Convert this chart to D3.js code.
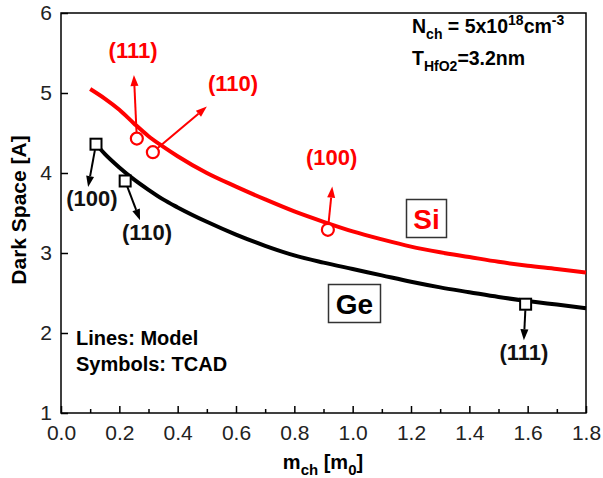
<!DOCTYPE html>
<html><head><meta charset="utf-8">
<script src="https://cdn.jsdelivr.net/npm/d3@7"></script>
<style>
body{margin:0;background:#fff;}
svg{display:block;font-family:"Liberation Sans",Arial,Helvetica,sans-serif;}
</style></head>
<body><svg id="c" width="603" height="478"></svg>
<script>
// ---- data ----
const siX = [0.1,0.15,0.2,0.25,0.3,0.35,0.4,0.5,0.6,0.7,0.8,0.9,1.0,1.1,1.2,1.3,1.4,1.5,1.6,1.7,1.8];
const siY = [5.05,4.93,4.79,4.62,4.46,4.33,4.21,4.00,3.83,3.67,3.52,3.39,3.27,3.17,3.08,3.01,2.95,2.89,2.84,2.80,2.755];
const geX = [0.12,0.15,0.2,0.25,0.3,0.35,0.4,0.5,0.6,0.7,0.8,0.9,1.0,1.1,1.2,1.3,1.4,1.5,1.6,1.7,1.8];
const geY = [4.36,4.24,4.07,3.92,3.79,3.67,3.57,3.39,3.23,3.09,2.97,2.88,2.80,2.72,2.64,2.57,2.51,2.45,2.40,2.355,2.31];
const siTcadX = [0.26,0.315,0.915];
const siTcadY = [4.43,4.26,3.29];
const siTcadLabels = ["(111)","(110)","(100)"];
const geTcadX = [0.12,0.22,1.593];
const geTcadY = [4.36,3.90,2.36];
const geTcadLabels = ["(100)","(110)","(111)"];
// annotation arrow tips and label centres (data coordinates)
const siTipX = [0.25,0.50,0.93], siTipY = [5.225,4.83,3.83];
const siLabX = [0.247,0.59,0.928], siLabY = [5.54,5.125,4.20];
const geTipX = [0.093,0.271,1.587], geTipY = [3.825,3.41,1.91];
const geLabX = [0.106,0.295,1.587], geLabY = [3.69,3.26,1.76];
const xTicks = [0,0.2,0.4,0.6,0.8,1.0,1.2,1.4,1.6,1.8];
const xMinor = [0.1,0.3,0.5,0.7,0.9,1.1,1.3,1.5,1.7];
const yTicks = [1,2,3,4,5,6];

// ---- layout ----
const L=61,R=586,T=13,B=413;
const svg=d3.select("#c");
const x=d3.scaleLinear().domain([0,1.8]).range([L,R]);
const y=d3.scaleLinear().domain([1,6]).range([B,T]);
const RED="#ff0000";

// frame
svg.append("rect").attr("x",L).attr("y",T).attr("width",R-L).attr("height",B-T)
  .attr("fill","none").attr("stroke","#000").attr("stroke-width",1.5);

// axes
const xAx=svg.append("g").attr("transform",`translate(0,${B})`)
  .call(d3.axisBottom(x).tickValues(xTicks).tickSizeInner(-7).tickSizeOuter(0).tickPadding(14).tickFormat(d3.format(".1f")));
const xAxm=svg.append("g").attr("transform",`translate(0,${B})`)
  .call(d3.axisBottom(x).tickValues(xMinor).tickSizeInner(-4).tickSizeOuter(0).tickFormat(""));
const yAx=svg.append("g").attr("transform",`translate(${L},0)`)
  .call(d3.axisLeft(y).tickValues(yTicks).tickSizeInner(-7).tickSizeOuter(0).tickPadding(9).tickFormat(d3.format("d")));
[xAx,xAxm,yAx].forEach(g=>{
  g.select(".domain").remove();
  g.selectAll("line").attr("stroke","#000").attr("stroke-width",1.5);
  g.selectAll("text").attr("font-size",21).attr("fill","#222").attr("font-family","Liberation Sans, Arial, sans-serif");
});
xAx.selectAll("text").attr("dy","0.71em").attr("y",12);
yAx.selectAll("text").attr("dy","0.3em");

// curves
const line=d3.line().x(d=>x(d[0])).y(d=>y(d[1])).curve(d3.curveMonotoneX);
svg.append("path").datum(siX.map((v,i)=>[v,siY[i]])).attr("d",line)
  .attr("fill","none").attr("stroke",RED).attr("stroke-width",4);
svg.append("path").datum(geX.map((v,i)=>[v,geY[i]])).attr("d",line)
  .attr("fill","none").attr("stroke","#000").attr("stroke-width",4);

// arrows
function arrow(x0,y0,x1,y1,col,startOff){
  const dx=x1-x0, dy=y1-y0, len=Math.hypot(dx,dy), ux=dx/len, uy=dy/len;
  const sx=x0+ux*startOff, sy=y0+uy*startOff;
  const hl=11, hw=4;
  const bx=x1-ux*hl, by=y1-uy*hl;
  svg.append("line").attr("x1",sx).attr("y1",sy).attr("x2",bx).attr("y2",by)
    .attr("stroke",col).attr("stroke-width",2);
  svg.append("path").attr("d",`M${x1},${y1}L${bx-uy*hw},${by+ux*hw}L${bx+uy*hw},${by-ux*hw}Z`).attr("fill",col);
}
siTcadX.forEach((v,i)=>arrow(x(v),y(siTcadY[i]),x(siTipX[i]),y(siTipY[i]),RED,6));
geTcadX.forEach((v,i)=>arrow(x(v),y(geTcadY[i]),x(geTipX[i]),y(geTipY[i]),"#000",6));

// markers
svg.selectAll(".sic").data(siTcadX).enter().append("circle")
  .attr("cx",d=>x(d)).attr("cy",(d,i)=>y(siTcadY[i])).attr("r",6)
  .attr("fill","#fff").attr("stroke",RED).attr("stroke-width",2.2);
svg.selectAll(".ges").data(geTcadX).enter().append("rect")
  .attr("x",d=>x(d)-5.5).attr("y",(d,i)=>y(geTcadY[i])-5.5).attr("width",11).attr("height",11)
  .attr("fill","#fff").attr("stroke","#000").attr("stroke-width",2);

// labels
function lab(tx,ty,txt,col){
  svg.append("text").attr("x",tx).attr("y",ty).attr("dy","0.35em").attr("text-anchor","middle")
    .attr("font-size",22).attr("font-weight","bold").attr("fill",col).text(txt);
}
siLabX.forEach((v,i)=>lab(x(v),y(siLabY[i]),siTcadLabels[i],RED));
geLabX.forEach((v,i)=>lab(x(v),y(geLabY[i]),geTcadLabels[i],"#111"));

// material boxes
function box(x0,y0,w,h,txt,col){
  svg.append("rect").attr("x",x0).attr("y",y0).attr("width",w).attr("height",h)
    .attr("fill","#fff").attr("stroke","#333").attr("stroke-width",1.5);
  svg.append("text").attr("x",x0+w/2).attr("y",y0+h/2).attr("dy","0.36em").attr("text-anchor","middle")
    .attr("font-size",28).attr("font-weight","bold").attr("fill",col).text(txt);
}
box(406.5,199.5,40,38,"Si",RED);
box(328.5,284.5,52,38,"Ge","#000");

// legend text
svg.append("text").attr("x",76).attr("y",345).attr("font-size",20).attr("font-weight","bold").text("Lines: Model");
svg.append("text").attr("x",76).attr("y",371).attr("font-size",20).attr("font-weight","bold").text("Symbols: TCAD");

// top-right annotation
const t1=svg.append("text").attr("x",412).attr("y",33).attr("font-size",19.5).attr("font-weight","bold");
t1.append("tspan").text("N");
t1.append("tspan").attr("dy",6).attr("font-size",14).text("ch");
t1.append("tspan").attr("dy",-6).text(" = 5x10");
t1.append("tspan").attr("dy",-8).attr("font-size",14).text("18");
t1.append("tspan").attr("dy",8).text("cm");
t1.append("tspan").attr("dy",-8).attr("font-size",14).text("-3");
const t2=svg.append("text").attr("x",412).attr("y",65).attr("font-size",19.5).attr("font-weight","bold");
t2.append("tspan").text("T");
t2.append("tspan").attr("dy",6).attr("font-size",14).text("HfO2");
t2.append("tspan").attr("dy",-6).text("=3.2nm");

// axis titles
const xt=svg.append("text").attr("x",323).attr("y",469).attr("text-anchor","middle").attr("font-size",20).attr("font-weight","bold");
xt.append("tspan").text("m");
xt.append("tspan").attr("dy",6).attr("font-size",15).text("ch");
xt.append("tspan").attr("dy",-6).text(" [m");
xt.append("tspan").attr("dy",6).attr("font-size",15).text("0");
xt.append("tspan").attr("dy",-6).text("]");
svg.append("text").attr("transform","translate(26,210) rotate(-90)").attr("text-anchor","middle")
  .attr("font-size",21).attr("font-weight","bold").text("Dark Space [A]");
</script></body></html>
